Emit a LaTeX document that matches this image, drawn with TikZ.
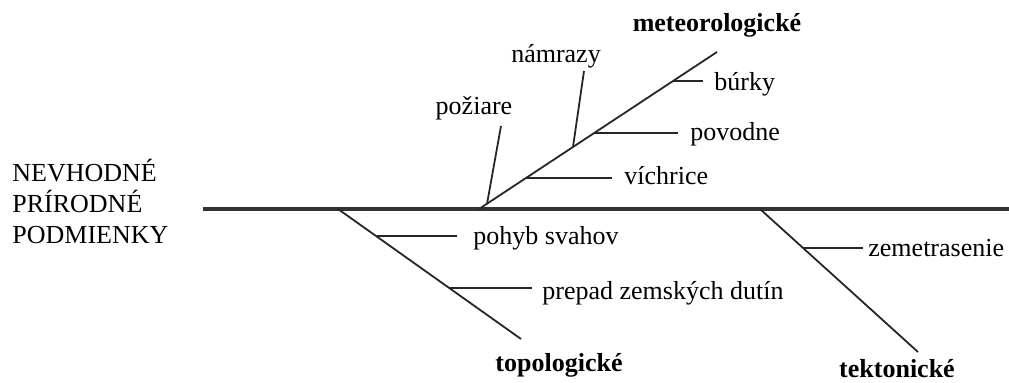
\documentclass[tikz,border=0pt]{standalone}
\usepackage{fontspec}
\setmainfont{Liberation Serif}
\begin{document}
\begin{tikzpicture}[x=0.5pt,y=-0.5pt,
  spine/.style={line width=2.1pt,black!80},
  bone/.style={line width=0.9pt,black!85},
  lbl/.style={inner sep=0pt,font=\fontsize{13}{15.5}\selectfont},
  cat/.style={inner sep=0pt,font=\fontsize{13}{15.5}\selectfont\bfseries}]
\useasboundingbox (0,0) rectangle (1009,383);
% effect
\node[lbl,anchor=base west] (eff1) at (12,182) {NEVHODNÉ};
\node[lbl,anchor=base west] (eff2) at (12,213) {PRÍRODNÉ};
\node[lbl,anchor=base west] (eff3) at (12,244) {PODMIENKY};
\coordinate (head) at (203,209);
\coordinate (tail) at (1009,209);
\draw[spine] (head) -- (tail);
% meteorologicke
\coordinate (m0) at (479,209);
\coordinate (m1) at (717,52);
\draw[bone] (m0) -- (m1);
\node[cat,anchor=base] (meteo) at (717,32) {meteorologické};
\coordinate (pz0) at (487,204);
\coordinate (pz1) at (501,126);
\draw[bone] (pz0) -- (pz1);
\node[lbl,anchor=base] (pozare) at (474,115) {požiare};
\coordinate (nm0) at (573,147);
\coordinate (nm1) at (584,71);
\draw[bone] (nm0) -- (nm1);
\node[lbl,anchor=base] (namrazy) at (556,63) {námrazy};
\coordinate (vi0) at (526,178);
\coordinate (vi1) at (612,178);
\draw[bone] (vi0) -- (vi1);
\node[lbl,anchor=base west] (vichrice) at (624,185) {víchrice};
\coordinate (po0) at (594,133);
\coordinate (po1) at (678,133);
\draw[bone] (po0) -- (po1);
\node[lbl,anchor=base west] (povodne) at (690,141) {povodne};
\coordinate (bu0) at (673,81);
\coordinate (bu1) at (703,81);
\draw[bone] (bu0) -- (bu1);
\node[lbl,anchor=base west] (burky) at (714,91) {búrky};
% topologicke
\coordinate (t0) at (338,209);
\coordinate (t1) at (521,339);
\draw[bone] (t0) -- (t1);
\node[cat,anchor=base] (topo) at (559,372) {topologické};
\coordinate (ph0) at (376,236);
\coordinate (ph1) at (457,236);
\draw[bone] (ph0) -- (ph1);
\node[lbl,anchor=base west] (pohyb) at (473,245) {pohyb svahov};
\coordinate (pr0) at (449,288);
\coordinate (pr1) at (532,288);
\draw[bone] (pr0) -- (pr1);
\node[lbl,anchor=base west] (prepad) at (542,300) {prepad zemských dutín};
% tektonicke
\coordinate (k0) at (760,209);
\coordinate (k1) at (918,352);
\draw[bone] (k0) -- (k1);
\node[cat,anchor=base] (tekto) at (897,378) {tektonické};
\coordinate (ze0) at (803,248);
\coordinate (ze1) at (863,248);
\draw[bone] (ze0) -- (ze1);
\node[lbl,anchor=base west] (zemetr) at (868,257) {zemetrasenie};
\end{tikzpicture}
\end{document}
